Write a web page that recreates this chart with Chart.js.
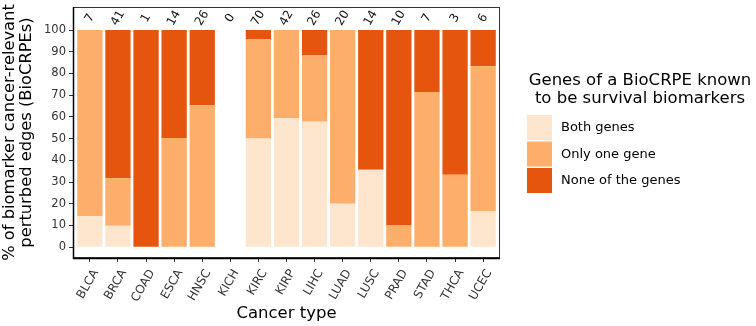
<!DOCTYPE html>
<html><head><meta charset="utf-8">
<script src="https://cdn.jsdelivr.net/npm/chart.js@4.4.1/dist/chart.umd.min.js"></script>
<style>html,body{margin:0;padding:0;background:#fff}#wrap{width:756px;height:326px}</style>
</head><body><div id="wrap"><canvas id="c" width="756" height="326"></canvas></div>
<script>
const categories = ["BLCA","BRCA","COAD","ESCA","HNSC","KICH","KIRC","KIRP","LIHC","LUAD","LUSC","PRAD","STAD","THCA","UCEC"];
const counts = [7,41,1,14,26,0,70,42,26,20,14,10,7,3,6];
const bothGenes = [14.3, 9.8, 0, 0, 0, 0, 50, 59.5, 57.7, 20, 35.7, 0, 0, 0, 16.7];
const oneGene   = [85.7, 21.9, 0, 50, 65.4, 0, 45.7, 40.5, 30.8, 80, 0, 10, 71.4, 33.3, 66.6];
const noneGenes = [0, 68.3, 100, 50, 34.6, 0, 4.3, 0, 11.5, 0, 64.3, 90, 28.6, 66.7, 16.7];
const yTicks = [0,10,20,30,40,50,60,70,80,90,100];
const seriesLabels = ["Both genes","Only one gene","None of the genes"];
const seriesColors = ["#fee6ce","#fdae6b","#e6550d"];
const legendTitle = ["Genes of a BioCRPE known","to be survival biomarkers"];

const FONT = "'DejaVu Sans', sans-serif";
const TXT = "#333333";

function pts(arr){ return arr.map((v,i)=>({x:i,y:v})); }

const extras = {
  id:'extras',
  afterDatasetsDraw(chart){
    const {ctx, chartArea:a, scales:{x,y}} = chart;
    ctx.save();
    // panel border
    ctx.strokeStyle = '#333'; ctx.lineWidth = 1;
    ctx.strokeRect(a.left+0.5, a.top+0.5, a.right-a.left-1, a.bottom-a.top-1);
    ctx.strokeStyle = '#000'; ctx.lineWidth = 1.5;
    ctx.beginPath(); ctx.moveTo(a.left+0.5, a.top); ctx.lineTo(a.left+0.5, a.bottom+0.5); ctx.lineTo(a.right, a.bottom+0.5); ctx.stroke();
    // counts
    ctx.fillStyle = '#111'; ctx.font = "12px " + FONT; ctx.textAlign='center'; ctx.textBaseline='middle';
    counts.forEach((n,i)=>{
      const px = x.getPixelForValue(i), py = y.getPixelForValue(105.5);
      ctx.save(); ctx.translate(px, py); ctx.rotate(-Math.PI/3); ctx.fillText(String(n),0,0); ctx.restore();
    });
    // legend
    ctx.fillStyle = '#000'; ctx.textAlign='center'; ctx.textBaseline='middle';
    ctx.font = "16.5px " + FONT;
    ctx.fillText(legendTitle[0], 640, 81);
    ctx.fillText(legendTitle[1], 640, 99);
    ctx.textAlign='left';
    ctx.font = "13px " + FONT;
    const ys=[115,141.5,168];
    seriesLabels.forEach((l,i)=>{
      ctx.fillStyle = seriesColors[i];
      ctx.fillRect(527, ys[i], 25, 25);
      ctx.fillStyle = '#000';
      ctx.fillText(l, 561, ys[i]+13);
    });
    ctx.restore();
  }
};

new Chart(document.getElementById('c'), {
  type:'bar',
  data:{
    datasets: seriesLabels.map((l,i)=>({
      label:l,
      data: pts([bothGenes, oneGene, noneGenes][i]),
      backgroundColor: seriesColors[i],
      borderWidth:0,
      barPercentage:0.9,
      categoryPercentage:1.0
    }))
  },
  options:{
    responsive:false, animation:false,
    layout:{padding:{left:0,right:256,top:7,bottom:0}},
    plugins:{legend:{display:false}, tooltip:{enabled:false}},
    scales:{
      x:{
        type:'linear', min:-0.6, max:14.6, stacked:true, offset:false,
        afterBuildTicks(s){ s.ticks = categories.map((c,i)=>({value:i})); },
        afterFit(s){ s.height = 68; s.paddingLeft = 0; s.paddingRight = 0; },
        ticks:{ autoSkip:false, minRotation:60, maxRotation:60, padding:5, labelOffset:6, color:TXT,
          font:{family:FONT,size:12}, callback:(v)=>categories[v] },
        grid:{ drawOnChartArea:false, drawTicks:true, tickLength:4, color:'#333', offset:false },
        border:{display:false},
        title:{ display:true, text:'Cancer type', color:'#000', font:{family:FONT,size:16.5}, padding:{top:0,bottom:2} }
      },
      y:{
        type:'linear', min:-5, max:110.6, stacked:true,
        afterBuildTicks(s){ s.ticks = yTicks.map(v=>({value:v})); },
        afterFit(s){ s.width = 73; s.paddingTop = 0; s.paddingBottom = 0; },
        ticks:{ color:TXT, font:{family:FONT,size:11.5}, padding:3 },
        grid:{ drawOnChartArea:false, drawTicks:true, tickLength:4, color:'#333' },
        border:{display:false},
        title:{ display:true, text:['% of biomarker cancer-relevant','perturbed edges (BioCRPEs)'], color:'#000',
          font:{family:FONT,size:16.3, lineHeight:1.05}, padding:{top:1,bottom:0} }
      }
    }
  },
  plugins:[extras]
});
</script></body></html>
